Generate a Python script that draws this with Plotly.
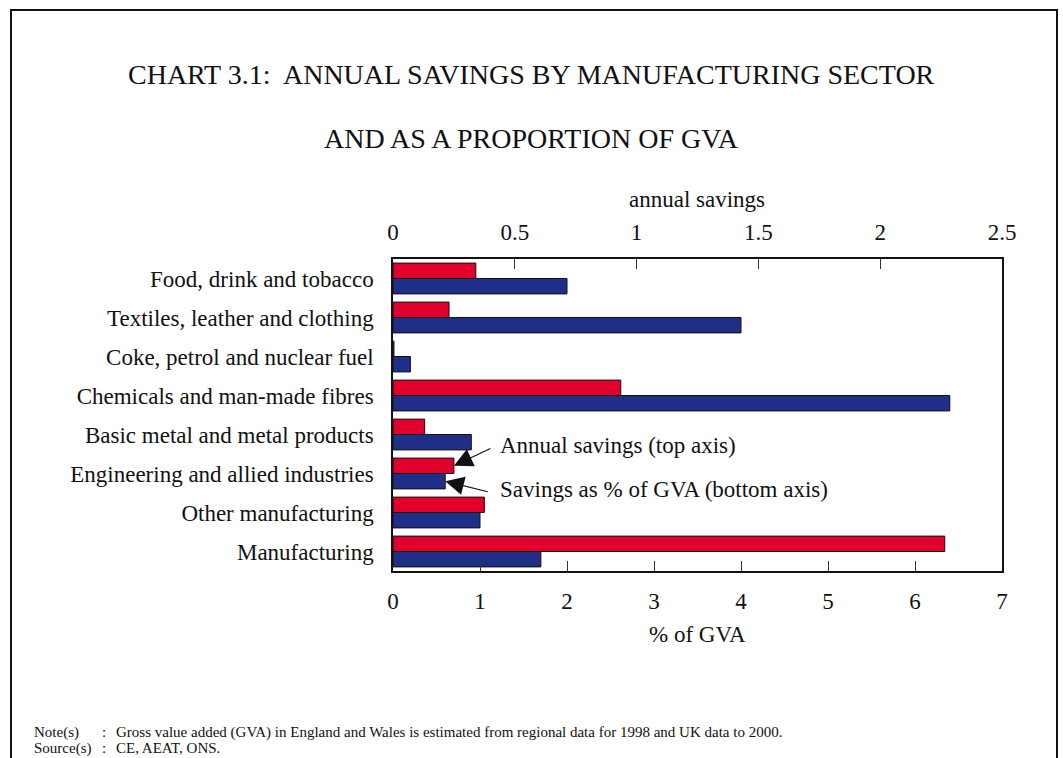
import plotly.graph_objects as go

# Sector data
sectors = [
    "Food, drink and tobacco",
    "Textiles, leather and clothing",
    "Coke, petrol and nuclear fuel",
    "Chemicals and man-made fibres",
    "Basic metal and metal products",
    "Engineering and allied industries",
    "Other manufacturing",
    "Manufacturing",
]
annual_savings = [0.34, 0.23, 0.004, 0.935, 0.13, 0.25, 0.375, 2.265]   # top axis
pct_of_gva = [2.0, 4.0, 0.2, 6.4, 0.9, 0.6, 1.0, 1.7]                   # bottom axis
top_ticks = [0, 0.5, 1, 1.5, 2, 2.5]
bottom_ticks = [0, 1, 2, 3, 4, 5, 6, 7]

W, H = 1063, 758
ML, MR, MT, MB = 393, 61, 259, 187
PW, PH = W - ML - MR, H - MT - MB

def px(x):
    return (x - ML) / PW

def py(y):
    return 1 - (y - MT) / PH

FONT = "Liberation Serif, Times New Roman, serif"
RED = "#E0002B"
BLUE = "#1F2F87"
BAR_W = 0.395
pos = list(range(len(sectors)))

fig = go.Figure()
fig.add_trace(go.Bar(
    y=pos, x=annual_savings, orientation="h", xaxis="x2", yaxis="y",
    width=BAR_W, offset=-BAR_W, name="Annual savings",
    marker=dict(color=RED, line=dict(color="#111111", width=1)),
))
fig.add_trace(go.Bar(
    y=pos, x=pct_of_gva, orientation="h", xaxis="x", yaxis="y",
    width=BAR_W, offset=0, name="Savings as % of GVA",
    marker=dict(color=BLUE, line=dict(color="#111111", width=1)),
))

axis_common = dict(
    showgrid=False, zeroline=False, showline=True, linecolor="#111111",
    linewidth=1.5, ticks="inside", ticklen=10, tickcolor="#333333",
    tickfont=dict(family=FONT, size=23, color="#111111"),
)

annotations = [
    dict(text="CHART 3.1:  ANNUAL SAVINGS BY MANUFACTURING SECTOR", x=px(531.5), y=py(75)),
    dict(text="AND AS A PROPORTION OF GVA", x=px(531.5), y=py(138)),
]
for a in annotations:
    a.update(xref="paper", yref="paper", xanchor="center", yanchor="middle",
             showarrow=False, font=dict(family=FONT, size=28, color="#111111"))

note_font = dict(family=FONT, size=15, color="#111111")
label_font = dict(family=FONT, size=23, color="#111111")


def note(text, x, y):
    return dict(text=text, x=px(x), y=py(y), xref="paper", yref="paper",
                xanchor="left", yanchor="middle", showarrow=False, font=note_font)


annotations += [
    dict(text="annual savings", x=px(697), y=py(199), xref="paper", yref="paper",
         xanchor="center", yanchor="middle", showarrow=False, font=label_font),
    dict(text="% of GVA", x=px(697), y=py(634), xref="paper", yref="paper",
         xanchor="center", yanchor="middle", showarrow=False, font=label_font),
    dict(text="Annual savings (top axis)", x=px(498), y=py(445), xref="paper", yref="paper",
         xanchor="left", yanchor="middle", showarrow=False, font=label_font),
    dict(text="Savings as % of GVA (bottom axis)", x=px(498), y=py(489), xref="paper", yref="paper",
         xanchor="left", yanchor="middle", showarrow=False, font=label_font),
    # arrows pointing at the Engineering bars
    dict(text="", x=annual_savings[5], y=5 - BAR_W / 2, xref="x2", yref="y",
         ax=38, ay=-18, axref="pixel", ayref="pixel", showarrow=True,
         arrowhead=2, arrowsize=3.4, arrowwidth=1.1, arrowcolor="#111111"),
    dict(text="", x=pct_of_gva[5], y=5 + BAR_W / 2, xref="x", yref="y",
         ax=44, ay=11, axref="pixel", ayref="pixel", showarrow=True,
         arrowhead=2, arrowsize=3.4, arrowwidth=1.1, arrowcolor="#111111"),
    note("Note(s)", 32, 732),
    note(":", 100, 732),
    note("Gross value added (GVA) in England and Wales is estimated from regional data for 1998 and UK data to 2000.",
         114, 732),
    note("Source(s)", 32, 748),
    note(":", 100, 748),
    note("CE, AEAT, ONS.", 114, 748),
]

fig.update_layout(
    width=W, height=H, autosize=False,
    margin=dict(l=ML, r=MR, t=MT, b=MB, pad=0),
    paper_bgcolor="white", plot_bgcolor="white",
    barmode="overlay", showlegend=False,
    xaxis=dict(range=[0, 7], tickvals=bottom_ticks, mirror=True,
               ticklabelstandoff=9, **axis_common),
    xaxis2=dict(range=[0, 2.5], tickvals=top_ticks, overlaying="x", side="top",
                anchor="y", ticklabelstandoff=8, **axis_common),
    yaxis=dict(range=[7.5, -0.5], tickvals=pos, ticktext=sectors, showgrid=False,
               zeroline=False, showline=True, mirror=True, linecolor="#111111",
               linewidth=1.5, ticks="", ticklabelstandoff=13,
               tickfont=dict(family=FONT, size=23, color="#111111")),
    annotations=annotations,
    shapes=[dict(type="rect", xref="paper", yref="paper",
                 x0=px(11), x1=px(1057), y0=py(10), y1=py(790),
                 line=dict(color="#111111", width=2), fillcolor="rgba(0,0,0,0)")],
)

fig.write_html("out.html")
